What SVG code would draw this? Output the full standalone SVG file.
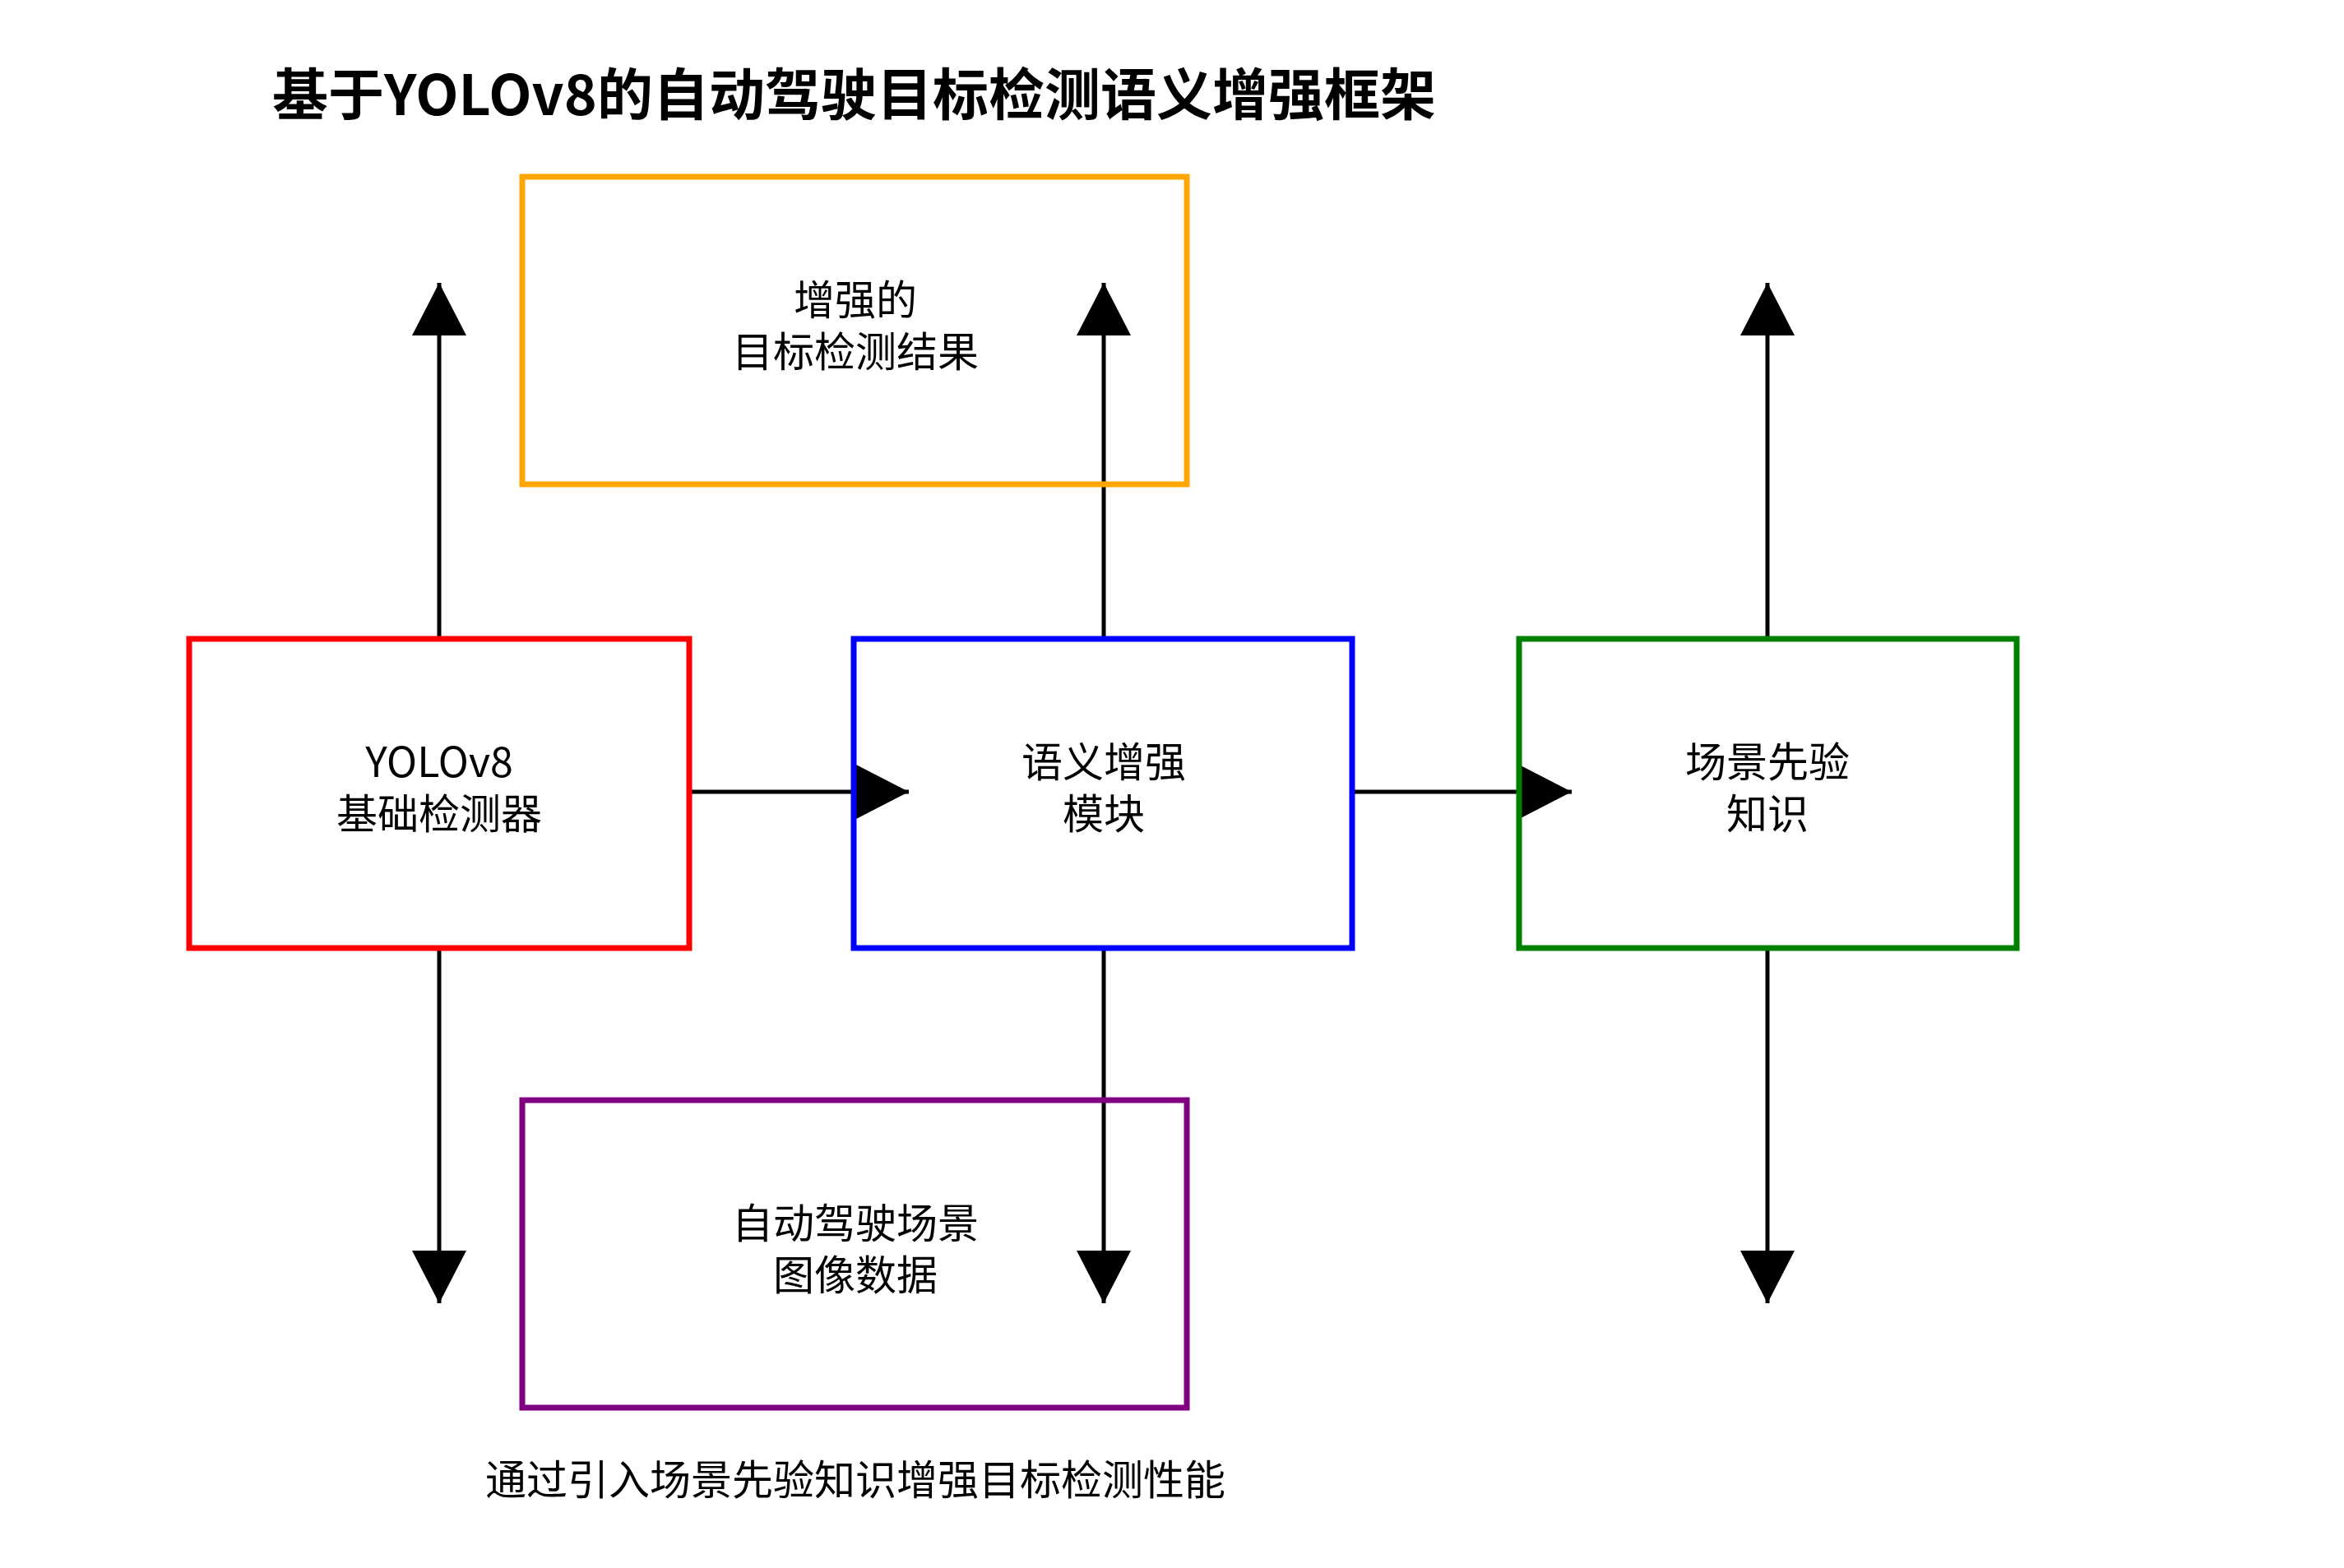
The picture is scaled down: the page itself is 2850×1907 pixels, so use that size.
<svg xmlns="http://www.w3.org/2000/svg" width="2850" height="1907" viewBox="0 0 2850 1907">
<style>
text{font-family:"Noto Sans CJK SC","Noto Sans",sans-serif;fill:#000}
.l{font-size:50px;text-anchor:middle;dominant-baseline:middle}
.b{fill:none;stroke-width:7}
.c{stroke:#000;stroke-width:5;fill:none}
</style>
<defs><marker id="a" markerUnits="userSpaceOnUse" markerWidth="70" markerHeight="70" refX="64" refY="33" orient="auto"><path d="M0,0L64,33L0,66Z" fill="#000"/></marker></defs>
<rect width="2850" height="1907" fill="#fff"/>
<text x="331" y="140" font-size="68" font-weight="bold">基于YOLOv8的自动驾驶目标检测语义增强框架</text>
<g id="connectors">
<line class="c" x1="534" y1="777" x2="534" y2="344" marker-end="url(#a)"/>
<line class="c" x1="1342" y1="777" x2="1342" y2="344" marker-end="url(#a)"/>
<line class="c" x1="2149" y1="777" x2="2149" y2="344" marker-end="url(#a)"/>
<line class="c" x1="534" y1="1153" x2="534" y2="1585" marker-end="url(#a)"/>
<line class="c" x1="1342" y1="1153" x2="1342" y2="1585" marker-end="url(#a)"/>
<line class="c" x1="2149" y1="1153" x2="2149" y2="1585" marker-end="url(#a)"/>
<line class="c" x1="838" y1="963" x2="1105" y2="963" marker-end="url(#a)"/>
<line class="c" x1="1644" y1="963" x2="1911" y2="963" marker-end="url(#a)"/>
</g>
<g id="result"><rect class="b" stroke="#FFA500" x="635" y="215" width="808" height="374"/><text class="l" x="1040" y="369">增强的</text><text class="l" x="1040" y="432">目标检测结果</text></g>
<g id="yolo"><rect class="b" stroke="#FF0000" x="230" y="777" width="608" height="376"/><text class="l" x="534" y="931">YOLOv8</text><text class="l" x="534" y="994">基础检测器</text></g>
<g id="sem"><rect class="b" stroke="#0000FF" x="1038" y="777" width="606" height="376"/><text class="l" x="1342" y="931">语义增强</text><text class="l" x="1342" y="994">模块</text></g>
<g id="prior"><rect class="b" stroke="#008000" x="1847" y="777" width="605" height="376"/><text class="l" x="2149" y="931">场景先验</text><text class="l" x="2149" y="994">知识</text></g>
<g id="data"><rect class="b" stroke="#800080" x="635" y="1338" width="808" height="374"/><text class="l" x="1040" y="1492">自动驾驶场景</text><text class="l" x="1040" y="1555">图像数据</text></g>
<text class="l" x="1040" y="1804">通过引入场景先验知识增强目标检测性能</text>
</svg>
